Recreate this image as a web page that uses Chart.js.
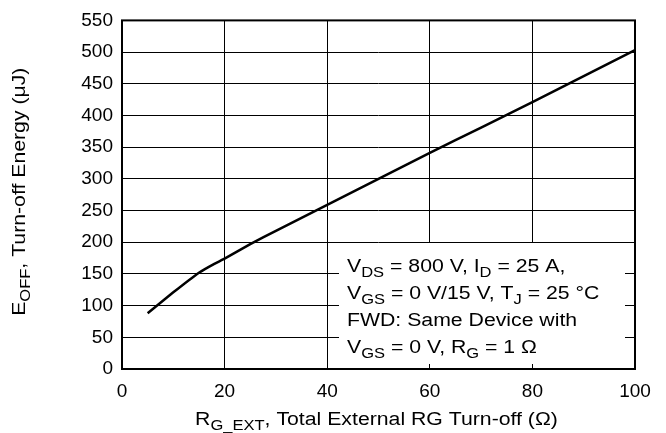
<!DOCTYPE html>
<html>
<head>
<meta charset="utf-8">
<script src="https://cdn.jsdelivr.net/npm/chart.js@4/dist/chart.umd.min.js"></script>
<style>
html,body{margin:0;padding:0;background:#fff;}
#c{display:block;}
</style>
</head>
<body>
<canvas id="c" width="666" height="433"></canvas>
<script>
var rgExt=[5,10,15,18,20,25,30,40,50,60,70,80,90,100];
var eOff=[88,121,152,166,174,197,218,259,300,341,381,421,462,503];
var xTicks=[0,20,40,60,80,100];
var yTicks=[0,50,100,150,200,250,300,350,400,450,500,550];
var noteLines=[
  [{t:'V'},{t:'DS',sub:1},{t:' = 800 V, I'},{t:'D',sub:1},{t:' = 25 A,'}],
  [{t:'V'},{t:'GS',sub:1},{t:' = 0 V/15 V, T'},{t:'J',sub:1},{t:' = 25 °C'}],
  [{t:'FWD: Same Device with'}],
  [{t:'V'},{t:'GS',sub:1},{t:' = 0 V, R'},{t:'G',sub:1},{t:' = 1 Ω'}]
];
var yTitle=[{t:'E'},{t:'OFF',sub:1},{t:', Turn-off Energy (μJ)'}];
var xTitle=[{t:'R'},{t:'G_EXT',sub:1},{t:', Total External RG Turn-off (Ω)'}];

var FAM='"Liberation Sans", Arial, Helvetica, sans-serif';
var FS=18,TFS=19,SX=1.18;

function richWidth(ctx,parts,fs){
  var w=0;
  for(var i=0;i<parts.length;i++){
    ctx.font=(parts[i].sub?Math.round(fs*0.75):fs)+'px '+FAM;
    w+=ctx.measureText(parts[i].t).width;
  }
  return w*SX;
}
function drawRich(ctx,parts,x,y,fs){
  var cx=0;
  ctx.save();
  ctx.translate(x,y);ctx.scale(SX,1);
  ctx.textBaseline='alphabetic';ctx.textAlign='left';
  for(var i=0;i<parts.length;i++){
    var p=parts[i];
    ctx.font=(p.sub?Math.round(fs*0.75):fs)+'px '+FAM;
    ctx.fillText(p.t,cx,p.sub?fs*0.25:0);
    cx+=ctx.measureText(p.t).width;
  }
  ctx.restore();
}

var deco={
  id:'deco',
  beforeDatasetsDraw:function(chart){
    var ctx=chart.ctx;
    ctx.save();
    ctx.fillStyle='#fff';
    ctx.fillRect(339,243,286,121);
    ctx.fillStyle='#000';
    for(var i=0;i<noteLines.length;i++) drawRich(ctx,noteLines[i],347,272+i*27,FS);
    ctx.restore();
  },
  afterDraw:function(chart){
    var ctx=chart.ctx,a=chart.chartArea;
    ctx.save();
    ctx.strokeStyle='#000';ctx.lineWidth=2;
    ctx.strokeRect(a.left,a.top,a.right-a.left,a.bottom-a.top);
    ctx.fillStyle='#000';
    var w=richWidth(ctx,xTitle,FS);
    drawRich(ctx,xTitle,(a.left+a.right)/2-w/2-2,425,FS);
    ctx.translate(25,(a.top+a.bottom)/2-3);
    ctx.rotate(-Math.PI/2);
    w=richWidth(ctx,yTitle,FS);
    drawRich(ctx,yTitle,-w/2,0,FS);
    ctx.restore();
  }
};

var pts=[];
for(var i=0;i<rgExt.length;i++) pts.push({x:rgExt[i],y:eOff[i]});

new Chart(document.getElementById('c'),{
  type:'line',
  data:{datasets:[{label:'EOFF',data:pts,borderColor:'#000',borderWidth:2.5,pointRadius:0,tension:0.1,fill:false}]},
  options:{
    responsive:false,animation:false,devicePixelRatio:1,
    layout:{padding:{left:0,right:31,top:13,bottom:0}},
    plugins:{legend:{display:false},tooltip:{enabled:false}},
    scales:{
      x:{type:'linear',min:0,max:100,
        afterBuildTicks:function(s){s.ticks=xTicks.map(function(v){return {value:v};});},
        afterFit:function(s){s.height=64;},
        ticks:{color:'#000',font:{size:TFS,family:FAM},padding:11,maxRotation:0},
        grid:{color:'#000',lineWidth:1,drawTicks:false},border:{display:false}},
      y:{min:0,max:550,
        afterBuildTicks:function(s){s.ticks=yTicks.map(function(v){return {value:v};});},
        afterFit:function(s){s.width=122;},
        ticks:{color:'#000',font:{size:TFS,family:FAM},padding:9},
        grid:{color:'#000',lineWidth:1,drawTicks:false},border:{display:false}}
    }
  },
  plugins:[deco]
});
</script>
</body>
</html>
